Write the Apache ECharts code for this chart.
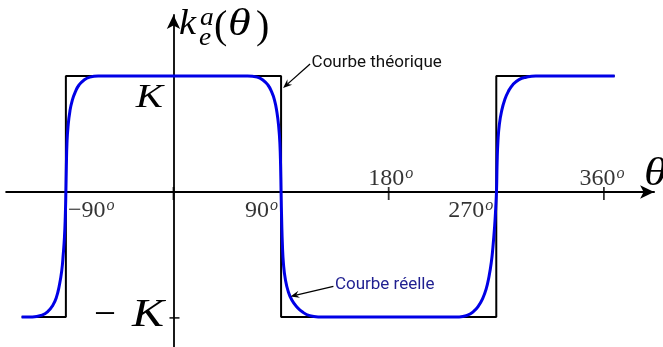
<!DOCTYPE html>
<html>
<head>
<meta charset="utf-8">
<script src="https://cdn.jsdelivr.net/npm/echarts@6/dist/echarts.min.js"></script>
<style>
  html, body { margin: 0; padding: 0; background: #fff; }
  #chart { width: 663px; height: 347px; }
</style>
</head>
<body>
<div id="chart"></div>
<script>
// Ideal response: square wave switching between -K and +K (K = 1)
const thetaTheory = [-127, -90, -90, 90, 90, 270, 270, 369];
const kTheory     = [-1, -1, 1, 1, -1, -1, 1, 1];

// Real response: rounded transitions around -90°, 90° and 270°
const thetaReal = [
  -127, -118, -110, -105, -101, -98, -95.5, -93.5, -92.2, -91.2, -90.5, -90,
  -89.6, -89.1, -88.2, -86.6, -84.6, -82, -79, -75, -70, -63,
  62, 70, 75, 79, 82, 84.5, 86.5, 88, 89, 89.6, 90,
  90.5, 91.1, 92, 93.6, 96, 99, 103, 108, 114, 121,
  239, 246, 251, 255, 258.5, 261.5, 264, 265.8, 267.2, 268.6, 269.5, 270.2,
  270.7, 271.4, 272.6, 274.5, 277, 280, 284, 289, 295, 303, 369
];
const kReal = [
  -1, -1, -0.985, -0.955, -0.905, -0.84, -0.74, -0.62, -0.48, -0.34, -0.17, 0.03,
  0.25, 0.44, 0.58, 0.71, 0.8, 0.87, 0.925, 0.965, 0.99, 1,
  1, 0.99, 0.965, 0.925, 0.87, 0.8, 0.7, 0.58, 0.44, 0.25, 0.03,
  -0.2, -0.4, -0.56, -0.69, -0.79, -0.86, -0.915, -0.96, -0.99, -1,
  -1, -0.985, -0.955, -0.91, -0.85, -0.77, -0.66, -0.55, -0.42, -0.25, -0.1, 0.05,
  0.28, 0.46, 0.6, 0.71, 0.8, 0.87, 0.93, 0.97, 0.99, 1, 1
];

// Angle axis: tick marks and labelled angles
const tickAngles  = [0, 180, 360];
const labelAngles = [-90, 90, 180, 270, 360];
const labelTexts  = ['−90', '90', '180', '270', '360'];

// Level ticks on the vertical axis
const levelTicks = [-1];

const serif = "'Liberation Serif', 'DejaVu Serif', serif";
const sans = "Roboto, 'Noto Sans', sans-serif";

const X_MIN = -140, X_MAX = 402;
const Y_MIN = -1.25, Y_MAX = 1.506;
const AXIS_SHIFT = 0.0365; // the horizontal axis sits a little above the mid-level

const pairs = (xs, ys) => xs.map((x, i) => [x, ys[i]]);

// where each angle label sits relative to its tick
const labelPlace = {
  '-90': { align: 'left',   offset: [2, 19] },
  '90':  { align: 'right',  offset: [-3, 19] },
  '180': { align: 'center', offset: [2, -13] },
  '270': { align: 'right',  offset: [-3, 19] },
  '360': { align: 'center', offset: [-2, -13] }
};

const chart = echarts.init(document.getElementById('chart'));

const angleLabelData = labelAngles.map((a, i) => ({
  value: [a, 0],
  name: labelTexts[i],
  label: {
    show: true,
    position: 'inside',
    align: labelPlace[String(a)].align,
    verticalAlign: 'middle',
    offset: labelPlace[String(a)].offset,
    formatter: '{n|' + labelTexts[i] + '}{s|o}'
  }
}));

chart.setOption({
  animation: false,
  backgroundColor: '#fff',
  grid: { left: 6.1, right: 8.9, top: 15, bottom: 0, containLabel: false },
  xAxis: {
    type: 'value', min: X_MIN, max: X_MAX,
    axisLine: {
      onZero: true, onZeroAxisIndex: 1,
      symbol: ['none', 'arrow'], symbolSize: [10, 14],
      lineStyle: { color: '#000', width: 1.8 }
    },
    axisTick: { show: false }, axisLabel: { show: false }, splitLine: { show: false }
  },
  yAxis: [
    {
      type: 'value', min: Y_MIN, max: Y_MAX,
      axisLine: {
        show: true, onZero: true,
        symbol: ['none', 'arrow'], symbolSize: [10, 14],
        lineStyle: { color: '#000', width: 1.8 }
      },
      axisTick: { show: false }, axisLabel: { show: false }, splitLine: { show: false }
    },
    {
      type: 'value', min: Y_MIN - AXIS_SHIFT, max: Y_MAX - AXIS_SHIFT, show: false,
      splitLine: { show: false }
    }
  ],
  series: [
    {
      name: 'Courbe théorique', type: 'line', data: pairs(thetaTheory, kTheory),
      symbol: 'none', lineStyle: { color: '#000', width: 2 }, z: 2, clip: false
    },
    {
      name: 'Courbe réelle', type: 'line', data: pairs(thetaReal, kReal),
      symbol: 'none', smooth: 0.5,
      lineStyle: { color: '#0000e6', width: 3 }, z: 3, clip: false
    },
    {
      type: 'scatter', yAxisIndex: 1, data: tickAngles.map(a => [a, 0]),
      symbol: 'rect', symbolSize: [1.8, 13], symbolOffset: [0, 1.5],
      itemStyle: { color: '#000' }, z: 4, silent: true
    },
    {
      type: 'scatter', yAxisIndex: 0, data: levelTicks.map(v => [0, v]),
      symbol: 'rect', symbolSize: [10, 1.8], symbolOffset: [1, 1],
      itemStyle: { color: '#000' }, z: 4, silent: true
    },
    {
      type: 'scatter', yAxisIndex: 1, data: angleLabelData,
      symbolSize: 1, itemStyle: { color: 'rgba(0,0,0,0)' }, z: 5, silent: true,
      label: {
        show: true, color: '#000',
        rich: {
          n: { fontFamily: serif, fontSize: 24, color: '#000', lineHeight: 26 },
          s: { fontFamily: serif, fontStyle: 'italic', fontSize: 16, color: '#000',
               verticalAlign: 'top', lineHeight: 14, padding: [0, 0, 0, 1] }
        }
      }
    }
  ]
});

function txt(x, y, text, font, align, color, scaleX) {
  return {
    type: 'text', z: 10, silent: true,
    x: x, y: y, scaleX: scaleX || 1,
    style: {
      x: 0, y: 0, text: text, font: font,
      textAlign: align || 'left', align: align || 'left',
      textVerticalAlign: 'middle', verticalAlign: 'middle',
      fill: color || '#000'
    }
  };
}

function arrowHead(tip, tail, len, half) {
  const dx = tip[0] - tail[0], dy = tip[1] - tail[1];
  const L = Math.hypot(dx, dy);
  const ux = dx / L, uy = dy / L, px = -uy, py = ux;
  const bx = tip[0] - ux * len, by = tip[1] - uy * len;
  const nx = tip[0] - ux * len * 0.65, ny = tip[1] - uy * len * 0.65;
  return [[tip[0], tip[1]], [bx + px * half, by + py * half], [nx, ny], [bx - px * half, by - py * half]];
}

function annotation(tip, tail, label, color) {
  const head = arrowHead(tip, tail, 9, 3.6);
  return [
    { type: 'line', z: 10, silent: true,
      shape: { x1: tail[0], y1: tail[1], x2: head[2][0], y2: head[2][1] },
      style: { stroke: '#000', lineWidth: 1.3 } },
    { type: 'polygon', z: 10, silent: true,
      shape: { points: head }, style: { fill: '#000' } },
    txt(tail[0] + 1.5, tail[1] - 1.5, label, '17px ' + sans, 'left', color)
  ];
}

const toPx = p => chart.convertToPixel({ xAxisIndex: 0, yAxisIndex: 0 }, p);

// arrow tips point at the ideal step edge and at the rounded real curve
const tipTheory = toPx([90, 0.9]);
tipTheory[0] += 2;
const tipReal = toPx([97.8, -0.83]);

chart.setOption({
  graphic: [
    // vertical axis name  k_e^a(θ)
    txt(179, 25, 'k', 'italic 35px ' + serif, 'left', '#000', 1.1),
    txt(200, 18.5, 'a', 'italic 25px ' + serif, 'left', '#000', 1.1),
    txt(199, 38.5, 'e', 'italic 25px ' + serif, 'left', '#000', 1.1),
    txt(214, 27, '(', '40px ' + serif),
    txt(228, 25, 'θ', 'italic 37px ' + serif, 'left', '#000', 1.25),
    txt(256, 27, ')', '40px ' + serif),
    // horizontal axis name
    txt(644, 174, 'θ', 'italic 40px ' + serif, 'left', '#000', 1.15),
    // level labels
    txt(163, 98, 'K', 'italic 34px ' + serif, 'right', '#000', 1.2),
    txt(164, 315.5, 'K', 'italic 40px ' + serif, 'right', '#000', 1.2),
    txt(116, 315.5, '−', '39px ' + serif, 'right'),
    ...annotation(tipTheory, [tipTheory[0] + 27, tipTheory[1] - 24], 'Courbe théorique', '#111'),
    ...annotation(tipReal, [tipReal[0] + 43, tipReal[1] - 10], 'Courbe réelle', '#1f1f90')
  ]
});
</script>
</body>
</html>
